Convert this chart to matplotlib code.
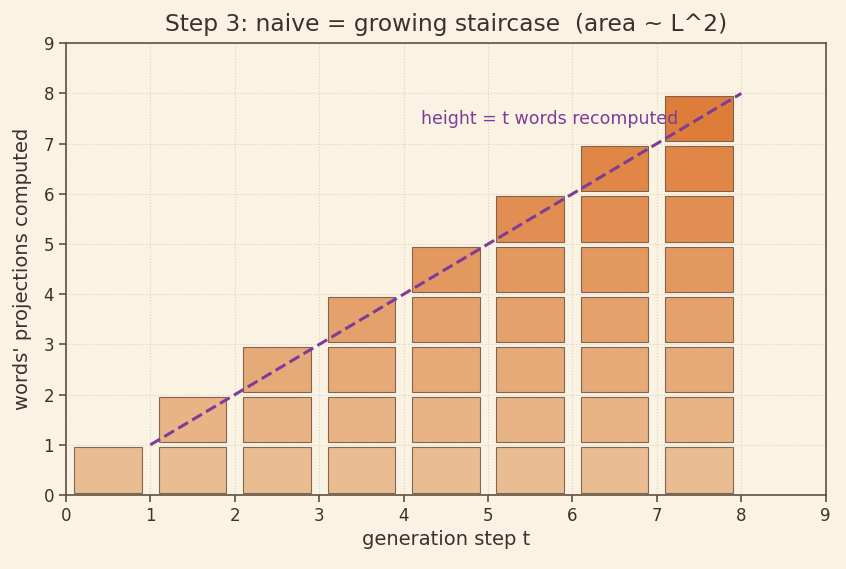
import numpy as np
import matplotlib.pyplot as plt
import matplotlib.colors as mcolors

# generation steps and how many words get recomputed at each
steps = [1, 2, 3, 4, 5, 6, 7, 8]
recomputed = [1, 2, 3, 4, 5, 6, 7, 8]

bg = '#faf3e4'
ink = '#3b322a'
purple = '#7d3c98'

plt.rcParams['font.family'] = 'DejaVu Sans'
fig, ax = plt.subplots(figsize=(8.46, 5.69), dpi=100)
fig.patch.set_facecolor(bg)
ax.set_facecolor(bg)

light = np.array(mcolors.to_rgb('#e7b384'))
dark = np.array(mcolors.to_rgb('#da681c'))
nmax = max(recomputed)

for t, h in zip(steps, recomputed):
    for j in range(h):
        frac = j / (nmax - 1)
        c = light + (dark - light) * frac
        ax.add_patch(plt.Rectangle((t - 0.9, j + 0.05), 0.8, 0.9,
                                   facecolor=c, edgecolor='#6e5240',
                                   linewidth=0.8, alpha=0.85, zorder=2))

ax.plot(steps, recomputed, '--', color=purple, lw=2.2, zorder=3)
ax.text(4.2, 7.4, 'height = t words recomputed', color=purple,
        fontsize=12.5, zorder=4)

ax.set_xlim(0, 9)
ax.set_ylim(0, 9)
ax.set_xticks(range(10))
ax.set_yticks(range(10))
ax.grid(True, linestyle=':', color='#ddd3ba', linewidth=0.8, zorder=0)
ax.set_axisbelow(True)
for s in ax.spines.values():
    s.set_color('#5e5040')
    s.set_linewidth(1.2)
ax.tick_params(colors=ink, labelsize=12, length=5, width=1.2)
ax.tick_params(axis='both', color='#5e5040')

ax.set_title('Step 3: naive = growing staircase  (area ~ L^2)',
             fontsize=16.8, color=ink, pad=9)
ax.set_xlabel('generation step t', fontsize=14, color=ink)
ax.set_ylabel("words' projections computed", fontsize=14, color=ink,
              labelpad=8)

fig.subplots_adjust(left=0.078, right=0.976, top=0.924, bottom=0.13)
fig.savefig('out.png', dpi=100, facecolor=bg)
